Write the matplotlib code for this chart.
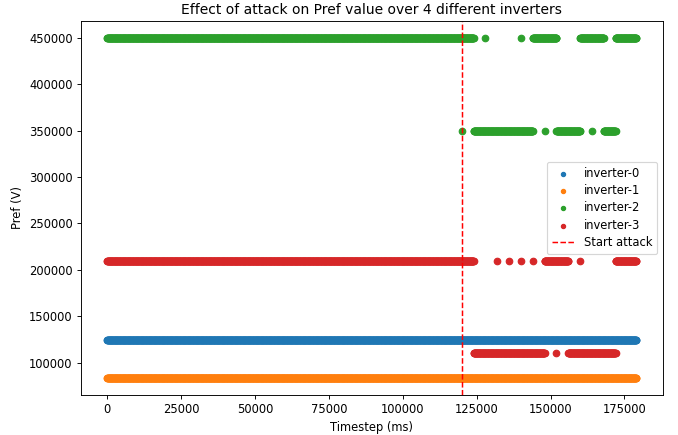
import numpy as np
from matplotlib import pyplot as plt

# logging interval of the inverter data
step_ms = 100
attack_start = 120000

labels = ["inverter-0", "inverter-1", "inverter-2", "inverter-3"]

# Pref levels (V) and the time runs (start, end) in ms where each level was reported
inv0_levels = [125000]
inv0_runs = [[(0, 179000)]]

inv1_levels = [83333]
inv1_runs = [[(0, 179000)]]

inv2_levels = [450000, 350000]
inv2_runs = [
    [(0, 124000), (128000, 128000), (140000, 140000), (144000, 152000),
     (160000, 168000), (172000, 179000)],
    [(120000, 120000), (124000, 144000), (148000, 148000), (152000, 160000),
     (164000, 164000), (168000, 172000)],
]

inv3_levels = [210000, 110000]
inv3_runs = [
    [(0, 124000), (132000, 132000), (136000, 136000), (140000, 140000),
     (144000, 144000), (148000, 156000), (160000, 160000), (172000, 179000)],
    [(124000, 148000), (152000, 152000), (156000, 172000)],
]


def build(levels, runs):
    t, p = [], []
    for level, spans in zip(levels, runs):
        for start, end in spans:
            ts = np.arange(start, end + step_ms, step_ms)
            t.append(ts)
            p.append(np.full(len(ts), level))
    return np.concatenate(t), np.concatenate(p)


series = [
    build(inv0_levels, inv0_runs),
    build(inv1_levels, inv1_runs),
    build(inv2_levels, inv2_runs),
    build(inv3_levels, inv3_runs),
]

fig, ax = plt.subplots(figsize=(678 / 83, 435 / 83), dpi=83)
fig.subplots_adjust(left=0.119, right=0.9774, bottom=0.0913, top=0.9524)

for (t, p), label in zip(series, labels):
    ax.scatter(t, p, s=32, label=label)

ax.axvline(x=attack_start, color="red", linestyle="--", linewidth=1.3,
           label="Start attack")

ax.set_title("Effect of attack on Pref value over 4 different inverters")
ax.set_xlabel("Timestep (ms)")
ax.set_ylabel("Pref (V)")
ax.legend(loc="center right", labelspacing=0.38, markerscale=0.65)

plt.savefig("out.png")
